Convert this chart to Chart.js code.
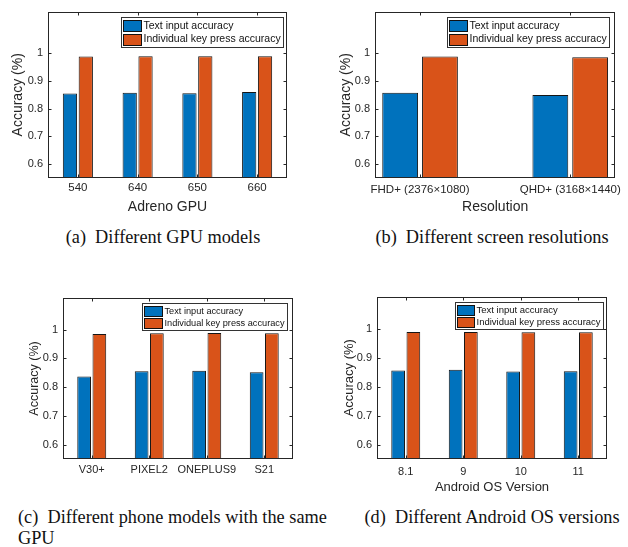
<!DOCTYPE html>
<html>
<head>
<meta charset="utf-8">
<script src="https://cdn.jsdelivr.net/npm/chart.js@4.4.1/dist/chart.umd.min.js"></script>
<style>
  body { margin: 0; background: #fff; width: 628px; height: 547px; position: relative; overflow: hidden; }
  canvas { position: absolute; }
  .cap { position: absolute; font-family: "Liberation Serif", serif; font-size: 18.3px; color: #111; white-space: nowrap; line-height: 21px; }
  .mid { transform: translateX(-50%); }
</style>
</head>
<body>
<canvas id="chartA" width="314" height="225" style="left:0;top:0"></canvas>
<canvas id="chartB" width="314" height="225" style="left:314px;top:0"></canvas>
<canvas id="chartC" width="314" height="215" style="left:0;top:285px"></canvas>
<canvas id="chartD" width="314" height="215" style="left:314px;top:285px"></canvas>
<div class="cap mid" style="left:163px;top:227px">(a)&nbsp; Different GPU models</div>
<div class="cap mid" style="left:492px;top:227px">(b)&nbsp; Different screen resolutions</div>
<div class="cap" style="left:18px;top:507px">(c)&nbsp; Different phone models with the same<br>GPU</div>
<div class="cap mid" style="left:492px;top:507px">(d)&nbsp; Different Android OS versions</div>
<script>
const series = ['Text input accuracy', 'Individual key press accuracy'];
const yTicks = [0.6, 0.7, 0.8, 0.9, 1];

const gpuLabels = ['540', '640', '650', '660'];
const gpuText = [0.855, 0.857, 0.856, 0.860];
const gpuKey = [0.988, 0.989, 0.989, 0.989];

const resLabels = ['FHD+ (2376×1080)', 'QHD+ (3168×1440)'];
const resText = [0.857, 0.849];
const resKey = [0.988, 0.985];

const phoneLabels = ['V30+', 'PIXEL2', 'ONEPLUS9', 'S21'];
const phoneText = [0.837, 0.855, 0.857, 0.852];
const phoneKey = [0.985, 0.987, 0.988, 0.987];

const osLabels = ['8.1', '9', '10', '11'];
const osText = [0.855, 0.858, 0.852, 0.853];
const osKey = [0.988, 0.988, 0.987, 0.987];

const BLUE = '#0072BD';
const ORANGE = '#D95319';
const INK = '#262626';
const SANS = '"Liberation Sans", Arial, sans-serif';

// matlab style box, inward ticks and the boxed legend
function boxPlugin(lg) {
  return {
    id: 'matlabBox',
    afterDatasetsDraw(chart) {
      const { ctx, chartArea: a, scales: { x, y } } = chart;
      const L = Math.round(a.left) + 0.5, R = Math.round(a.right) - 0.5;
      const T = Math.round(a.top) + 0.5, B = Math.round(a.bottom) - 0.5;
      ctx.save();
      ctx.strokeStyle = INK;
      ctx.lineWidth = 1;
      ctx.beginPath();
      y.ticks.forEach(t => {
        const py = Math.round(y.getPixelForValue(t.value)) + 0.5;
        ctx.moveTo(L, py); ctx.lineTo(L + 3, py);
        ctx.moveTo(R, py); ctx.lineTo(R - 3, py);
      });
      x.ticks.forEach(t => {
        const px = Math.round(x.getPixelForValue(t.value)) + 0.5;
        ctx.moveTo(px, T); ctx.lineTo(px, T + 3);
        ctx.moveTo(px, B); ctx.lineTo(px, B - 3);
      });
      ctx.stroke();
      ctx.strokeRect(L, T, R - L, B - T);

      // legend
      ctx.font = lg.size + 'px ' + SANS;
      const ds = chart.data.datasets;
      const tw = Math.max(...ds.map(d => ctx.measureText(d.label).width));
      const w = Math.round(2 + lg.sw + 2 + tw + 3);
      const h = Math.round(lg.row * ds.length + 3);
      const bx = Math.round(a.right - lg.mr - w) + 0.5;
      const by = Math.round(a.top + lg.mt) + 0.5;
      ctx.fillStyle = '#fff';
      ctx.fillRect(bx, by, w, h);
      ctx.strokeStyle = '#333';
      ctx.strokeRect(bx, by, w, h);
      ds.forEach((d, i) => {
        const ry = by + 1.5 + i * lg.row;
        const sy = Math.round(ry + (lg.row - lg.sh) / 2) + 0.5;
        ctx.fillStyle = d.backgroundColor;
        ctx.fillRect(bx + 2, sy, lg.sw, lg.sh);
        ctx.strokeStyle = '#111';
        ctx.strokeRect(bx + 2, sy, lg.sw, lg.sh);
        ctx.fillStyle = '#111';
        ctx.textBaseline = 'middle';
        ctx.textAlign = 'left';
        ctx.fillText(d.label, bx + 4 + lg.sw, ry + lg.row / 2);
      });
      ctx.restore();
    }
  };
}

function makeChart(id, labels, text, key, c) {
  return new Chart(document.getElementById(id), {
    type: 'bar',
    data: {
      datasets: [
        { label: series[0], data: text.map((v, i) => ({ x: i + 1, y: v })),
          backgroundColor: BLUE, borderColor: '#151515', borderWidth: 1 },
        { label: series[1], data: key.map((v, i) => ({ x: i + 1, y: v })),
          backgroundColor: ORANGE, borderColor: '#151515', borderWidth: 1 }
      ]
    },
    options: {
      responsive: false,
      animation: false,
      devicePixelRatio: 1,
      categoryPercentage: 0.53,
      barPercentage: 0.9,
      layout: { padding: { left: 0, top: c.top, right: c.right, bottom: 0 } },
      plugins: { legend: { display: false }, tooltip: { enabled: false } },
      scales: {
        x: {
          type: 'linear',
          min: c.xmin, max: c.xmax,
          offset: false,
          grid: { display: false, drawTicks: false, offset: false },
          border: { display: false },
          afterBuildTicks: s => { s.ticks = labels.map((_, i) => ({ value: i + 1 })); },
          afterFit: s => { s.height = c.xh; },
          ticks: {
            autoSkip: false, maxRotation: 0, padding: c.xpad, color: INK,
            font: { family: SANS, size: c.xfs },
            callback: v => labels[v - 1]
          },
          title: {
            display: !!c.xtitle, text: c.xtitle, color: INK,
            font: { family: SANS, size: c.xtfs },
            padding: { top: 0, bottom: c.xtpb }
          }
        },
        y: {
          min: 0.55, max: c.ymax,
          grid: { display: false, drawTicks: false },
          border: { display: false },
          afterBuildTicks: s => { s.ticks = yTicks.map(v => ({ value: v })); },
          afterFit: s => { s.width = c.left; },
          ticks: {
            padding: 5, color: INK,
            font: { family: SANS, size: c.yfs },
            callback: v => String(+v.toFixed(1))
          },
          title: {
            display: true, text: 'Accuracy (%)', color: INK,
            font: { family: SANS, size: c.ytfs },
            padding: { top: c.ytpt, bottom: 0 }
          }
        }
      }
    },
    plugins: [boxPlugin(c.legend)]
  });
}

makeChart('chartA', gpuLabels, gpuText, gpuKey, {
  top: 5, right: 27, left: 48, xh: 47, xmin: 0.5, xmax: 4.5, ymax: 1.15,
  xpad: 3, xfs: 11.5, xtitle: 'Adreno GPU', xtfs: 14, xtpb: 9.6,
  yfs: 11, ytfs: 14, ytpt: 9.6,
  legend: { size: 10.5, sw: 18, sh: 11, row: 13.5, mr: 4, mt: 5 }
});
makeChart('chartB', resLabels, resText, resKey, {
  top: 9, right: 12, left: 61, xh: 47, xmin: 0.7, xmax: 2.3, ymax: 1.15,
  xpad: 5, xfs: 11.5, xtitle: 'Resolution', xtfs: 14, xtpb: 9.6,
  yfs: 11, ytfs: 14, ytpt: 23.6,
  legend: { size: 10.5, sw: 18, sh: 11, row: 13.5, mr: 6, mt: 5 }
});
makeChart('chartC', phoneLabels, phoneText, phoneKey, {
  top: 13, right: 21, left: 63, xh: 41, xmin: 0.5, xmax: 4.5, ymax: 1.11,
  xpad: 4, xfs: 11, xtitle: '', xtfs: 13, xtpb: 0,
  yfs: 11, ytfs: 12.5, ytpt: 27.5,
  legend: { size: 9.2, sw: 18, sh: 10, row: 12, mr: 6, mt: 5 }
});
makeChart('chartD', osLabels, osText, osKey, {
  top: 8, right: 21, left: 63, xh: 41, xmin: 0.5, xmax: 4.5, ymax: 1.11,
  xpad: 6, xfs: 11, xtitle: 'Android OS Version', xtfs: 13, xtpb: 5.2,
  yfs: 11, ytfs: 13, ytpt: 27.2,
  legend: { size: 9.5, sw: 17, sh: 10, row: 12, mr: 4, mt: 5 }
});
</script>
</body>
</html>
